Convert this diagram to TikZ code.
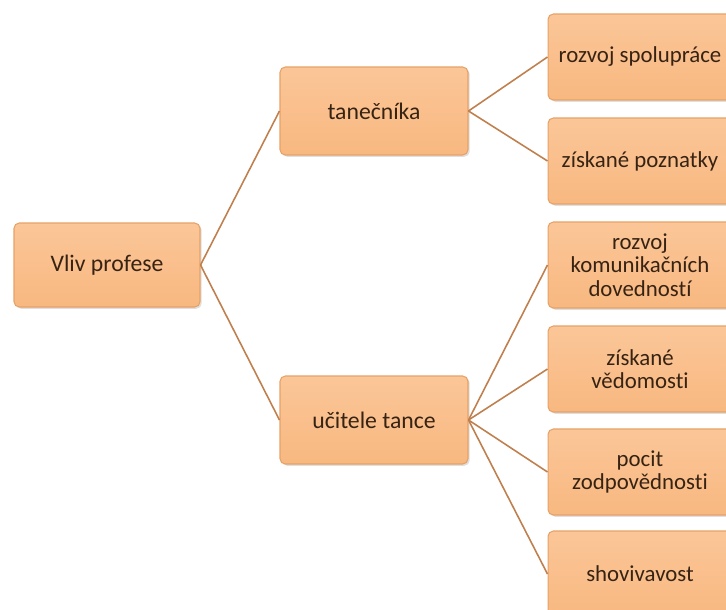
\documentclass[tikz,border=0pt]{standalone}
\usepackage{fontspec}
\setmainfont{Carlito}[Ligatures=NoCommon]
\usepackage{tikz}
\usetikzlibrary{shadows}

\definecolor{boxtop}{RGB}{251,198,152}
\definecolor{boxbot}{RGB}{248,184,128}
\definecolor{boxrim}{RGB}{230,162,102}
\definecolor{linkc}{RGB}{192,128,78}
\definecolor{textc}{RGB}{55,35,20}

\begin{document}
\begin{tikzpicture}[x=0.02cm,y=-0.02cm,
                    box/.style={rectangle,rounded corners=3pt,top color=boxtop,bottom color=boxbot,
                                draw=boxrim,line width=0.6pt,text=textc,align=center,
                                font=\fontsize{13.5}{13.4}\selectfont,
                                drop shadow={opacity=0.25,shadow xshift=1pt,shadow yshift=-1pt}},
                    leaf/.style={box,minimum width=3.68cm,minimum height=1.72cm,inner sep=1pt,
                                 font=\fontsize{13}{13.4}\selectfont},
                    link/.style={draw=linkc,line width=0.9pt}]

 \useasboundingbox (0,0) rectangle (726,609);
 \clip (0,0) rectangle (726,609);

  \node[box,minimum width=3.72cm,minimum height=1.68cm] (root) at (107,265) {Vliv profese};
  \node[box,minimum width=3.76cm,minimum height=1.76cm] (dancer) at (374,111) {tanečníka};
  \node[box,minimum width=3.76cm,minimum height=1.76cm] (teacher) at (374,420) {učitele tance};

  \node[leaf] (coop)  at (640,57)  {rozvoj spolupráce};
  \node[leaf] (know)  at (640,161) {získané poznatky};
  \node[leaf] (comm)  at (640,265) {rozvoj\\komunikačních\\dovedností};
  \node[leaf] (learn) at (640,369) {získané\\vědomosti};
  \node[leaf] (resp)  at (640,472) {pocit\\zodpovědnosti};
  \node[leaf] (pat)   at (640,574) {shovivavost};

  \path[link] (root.east) edge (dancer.west)
                          edge (teacher.west)
              (dancer.east) edge (coop.west)
                            edge (know.west)
              (teacher.east) edge (comm.west)
                             edge (learn.west)
                             edge (resp.west)
                             edge (pat.west);

\end{tikzpicture}
\end{document}
